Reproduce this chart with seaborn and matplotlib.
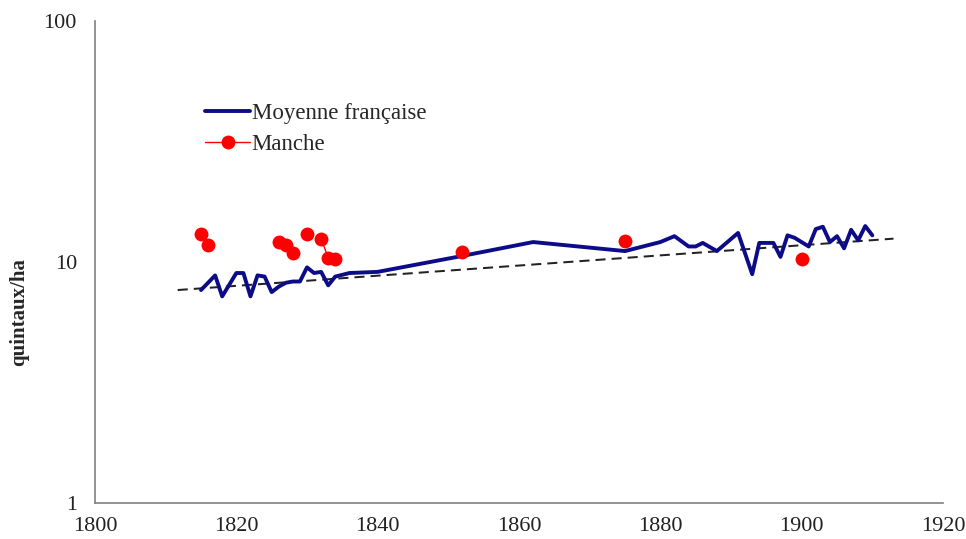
import numpy as np
import pandas as pd
import matplotlib
matplotlib.use("Agg")
import matplotlib.pyplot as plt
from matplotlib.lines import Line2D
import seaborn as sns

# --- data ---
fr_years = [1815, 1816, 1817, 1818, 1820, 1821, 1822, 1823, 1824, 1825, 1826, 1827,
            1828, 1829, 1830, 1831, 1832, 1833, 1834, 1836, 1840, 1852, 1862, 1875,
            1880, 1882, 1884, 1885, 1886, 1888, 1891, 1893, 1894, 1896, 1897, 1898,
            1899, 1901, 1902, 1903, 1904, 1905, 1906, 1907, 1908, 1909, 1910]
fr_vals = [7.65, 8.2, 8.8, 7.2, 9.0, 9.0, 7.2, 8.8, 8.7, 7.5, 7.9, 8.2,
           8.3, 8.3, 9.5, 9.0, 9.1, 8.0, 8.7, 9.0, 9.1, 10.6, 12.1, 11.1,
           12.1, 12.8, 11.6, 11.6, 12.0, 11.1, 13.2, 8.9, 12.0, 12.0, 10.5, 12.9,
           12.6, 11.6, 13.7, 14.0, 12.1, 12.8, 11.4, 13.6, 12.3, 14.1, 12.9]

manche_years = [1815, 1816, 1826, 1827, 1828, 1830, 1832, 1833, 1834, 1852, 1875, 1900]
manche_vals = [13.1, 11.8, 12.1, 11.8, 10.9, 13.1, 12.5, 10.4, 10.3, 11.0, 12.2, 10.3]

trend_years = [1811.7, 1913.0]
trend_vals = [7.65, 12.5]

x_ticks = [1800, 1820, 1840, 1860, 1880, 1900, 1920]
y_ticks = [1, 10, 100]
y_label = "quintaux/ha"
legend_labels = ["Moyenne française", "Manche"]

# --- style ---
sns.set_style("white")
plt.rcParams["font.family"] = ["Liberation Serif", "DejaVu Serif"]

navy = "#0c0c88"
red = "#ff0000"

fig = plt.figure(figsize=(9.66, 5.39), dpi=100)
ax = fig.add_axes([95 / 966, 1 - 503 / 539, (943 - 95) / 966, (503 - 21) / 539])

df_fr = pd.DataFrame({"year": fr_years, "val": fr_vals})
df_tr = pd.DataFrame({"year": trend_years, "val": trend_vals})
my = np.array(manche_years)
grp = np.concatenate([[0], np.cumsum(np.diff(my) > 1)])
df_m = pd.DataFrame({"year": manche_years, "val": manche_vals, "grp": grp})

sns.lineplot(data=df_tr, x="year", y="val", ax=ax, color="#222222",
             linestyle=(0, (5, 3)), linewidth=1.45, zorder=2)
sns.lineplot(data=df_fr, x="year", y="val", ax=ax, color=navy,
             linewidth=2.8, zorder=3, estimator=None, sort=True)
sns.lineplot(data=df_m, x="year", y="val", units="grp", estimator=None, ax=ax,
             color=red, linewidth=1.0, zorder=4, marker="o", markersize=10,
             markeredgewidth=0, legend=False)

ax.set_yscale("log")
ax.set_xlim(1800, 1920)
ax.set_ylim(1, 100)
ax.set_xticks(x_ticks)
ax.set_xticklabels([str(t) for t in x_ticks])
ax.set_yticks(y_ticks)
ax.set_yticklabels([str(t) for t in y_ticks])
ax.yaxis.set_minor_locator(matplotlib.ticker.NullLocator())
ax.tick_params(axis="both", which="major", direction="out", length=6, width=1,
               color="#808080", labelsize=16, labelcolor="#222222", pad=7)
ax.tick_params(axis="x", pad=4)
ax.set_xlabel("")
ax.set_ylabel(y_label, fontsize=15, fontweight="bold")
ax.yaxis.set_label_coords(-0.078, 0.396)

for s in ["top", "right"]:
    ax.spines[s].set_visible(False)
for s in ["left", "bottom"]:
    ax.spines[s].set_color("#808080")
    ax.spines[s].set_linewidth(1.2)

handles = [Line2D([0], [0], color=navy, linewidth=2.8),
           Line2D([0], [0], color=red, linewidth=1.0, marker="o", markersize=10,
                  markeredgewidth=0)]
ax.legend(handles, legend_labels, loc="upper left", bbox_to_anchor=(0.13, 0.83),
          frameon=False, fontsize=16.5, handlelength=1.95, handletextpad=0.08,
          labelspacing=0.45, borderaxespad=0, borderpad=0)

fig.savefig("out.png", dpi=100)
